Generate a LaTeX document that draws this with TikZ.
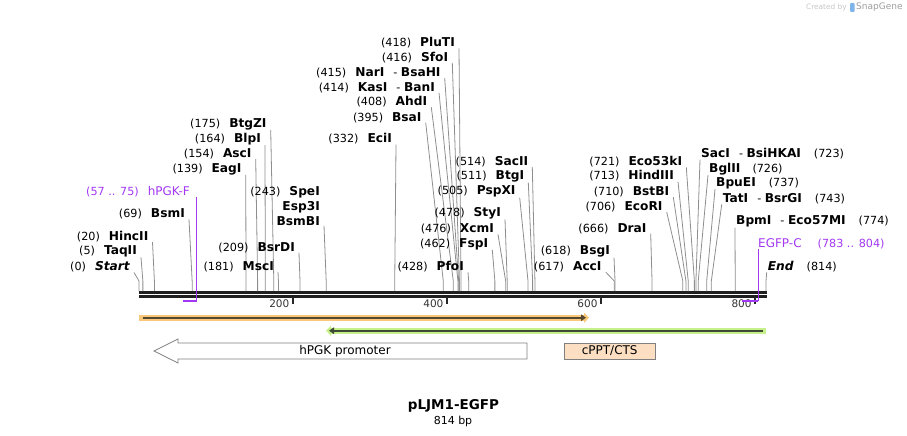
\documentclass[tikz,border=0pt]{standalone}
\usepackage{fontspec}
\setmainfont{DejaVu Sans}
\usetikzlibrary{arrows.meta}

\definecolor{cutgray}{HTML}{8E8E8E}
\definecolor{primerpurple}{HTML}{A238F2}
\definecolor{orfglow}{HTML}{F9C87A}
\definecolor{orfdark}{HTML}{54482E}
\definecolor{greenglow}{HTML}{C5F08A}
\definecolor{greendark}{HTML}{3E4A36}
\definecolor{cpptfill}{HTML}{FCDFC2}
\definecolor{logoblue}{HTML}{7DB4EA}

\begin{document}
\begin{tikzpicture}[x=1pt,y=-1pt,
    enz/.style={inner sep=0pt,font=\fontsize{11.2}{15}\selectfont,align=right,anchor=east},
    enzr/.style={inner sep=0pt,font=\fontsize{11.2}{15}\selectfont,align=left,anchor=west},
    cutline/.style={draw=cutgray,line width=0.8pt},
    primer/.style={draw=primerpurple,line width=1.3pt},
    backbone/.style={draw=black!88,line width=2.7pt},
    featbox/.style={draw=black!50,line width=0.7pt,font=\fontsize{12}{14}\selectfont}]

    \def\gap{\hspace{9pt}}
    \def\nm#1{{\fontsize{12.2}{15}\selectfont\bfseries #1}}

    \useasboundingbox (0,0) rectangle (907,436);

    %draw backbone:
    \draw[backbone] (139,292.3) -- (767,292.3);
    \draw[backbone] (139,296.3) -- (767,296.3);
    \foreach \t in {200,400,600,800}{
        \draw[line width=1.5pt,black!85] ({139+0.7703*\t},297) -- ({139+0.7703*\t},303.5);
        \node[inner sep=0pt,anchor=east,font=\fontsize{10.5}{12}\selectfont,text=black!80] (tick\t) at ({135.5+0.7703*\t},304) {\t};
    }

    %sites, label left of the line:
    \foreach \id/\bp/\lx/\ly/\txt in {
        start/0/130/267/{(0)\gap\nm{\itshape Start}},
        taqii/5/137/251.5/{(5)\gap\nm{TaqII}},
        hincii/20/148.5/236.5/{(20)\gap\nm{HincII}},
        bsmi/69/185/214/{(69)\gap\nm{BsmI}},
        eagi/139/241.7/169/{(139)\gap\nm{EagI}},
        asci/154/251.7/153.5/{(154)\gap\nm{AscI}},
        blpi/164/261/139/{(164)\gap\nm{BlpI}},
        btgzi/175/266.7/124/{(175)\gap\nm{BtgZI}},
        msci/181/274/266.7/{(181)\gap\nm{MscI}},
        bsrdi/209/295/247.3/{(209)\gap\nm{BsrDI}},
        spei/243/320/206/{(243)\gap\nm{SpeI}\\\nm{Esp3I}\\\nm{BsmBI}},
        ecii/332/392/139/{(332)\gap\nm{EciI}},
        bsai/395/421.7/117.3/{(395)\gap\nm{BsaI}},
        ahdi/408/427.3/101.7/{(408)\gap\nm{AhdI}},
        kasi/414/435/87.3/{(414)\gap\nm{KasI}\gap- \nm{BanI}},
        nari/415/440.7/72.7/{(415)\gap\nm{NarI}\gap- \nm{BsaHI}},
        sfoi/416/448.3/57.3/{(416)\gap\nm{SfoI}},
        pluti/418/455/42.7/{(418)\gap\nm{PluTI}},
        pfoi/428/464/266.7/{(428)\gap\nm{PfoI}},
        fspi/462/488.3/244/{(462)\gap\nm{FspI}},
        xcmi/476/494/229/{(476)\gap\nm{XcmI}},
        styi/478/501/213.3/{(478)\gap\nm{StyI}},
        pspxi/505/515.7/191.7/{(505)\gap\nm{PspXI}},
        btgi/511/524.3/176.7/{(511)\gap\nm{BtgI}},
        sacii/514/528.3/161.7/{(514)\gap\nm{SacII}},
        acci/617/601.7/266.7/{(617)\gap\nm{AccI}},
        bsgi/618/610/251.7/{(618)\gap\nm{BsgI}},
        drai/666/646.7/228.3/{(666)\gap\nm{DraI}},
        ecori/706/662.7/206.7/{(706)\gap\nm{EcoRI}},
        bstbi/710/669.3/191.7/{(710)\gap\nm{BstBI}},
        hindiii/713/674/176/{(713)\gap\nm{HindIII}},
        eco53ki/721/682.3/161.7/{(721)\gap\nm{Eco53kI}}}{
        \node[enz] (\id) at (\lx,\ly) {\txt};
        \coordinate (\id-cut) at ({139+0.7703*\bp},291);
        \draw[cutline] ([xshift=4pt]\id.south east) -- ([yshift=10pt]\id-cut) -- (\id-cut);
    }

    %sites, label right of the line:
    \foreach \id/\bp/\lx/\ly/\txt in {
        saci/723/701/154/{\nm{SacI}\gap- \nm{BsiHKAI}\hspace{13pt}(723)},
        bglii/726/709/169/{\nm{BglII}\hspace{12pt}(726)},
        bpuei/737/716/183.3/{\nm{BpuEI}\hspace{13pt}(737)},
        tati/743/722.7/199/{\nm{TatI}\gap- \nm{BsrGI}\hspace{13pt}(743)},
        bpmi/774/736/221.7/{\nm{BpmI}\gap- \nm{Eco57MI}\hspace{13pt}(774)},
        endsite/814/767.7/266.7/{\nm{\itshape End}\hspace{13pt}(814)}}{
        \node[enzr] (\id) at (\lx,\ly) {\txt};
        \coordinate (\id-cut) at ({139+0.7703*\bp},291);
        \draw[cutline] ([xshift=-1pt]\id.south west) -- ([yshift=10pt]\id-cut) -- (\id-cut);
    }

    %primers:
    \node[enz,text=primerpurple] (hpgkf) at (190,191.7) {(57 .. 75)\gap{\fontsize{12}{15}\selectfont hPGK-F}};
    \coordinate (hpgkf-3) at ({139+0.7703*75},301);
    \coordinate (hpgkf-5) at ({139+0.7703*57},301);
    \draw[primer] (hpgkf-3 |- hpgkf.south) -- (hpgkf-3);
    \draw[primer,line width=2pt] (hpgkf-3) -- (hpgkf-5);

    \node[enzr,text=primerpurple] (egfpc) at (758,244) {{\fontsize{12}{15}\selectfont EGFP-C}\hspace{16pt}(783 .. 804)};
    \coordinate (egfpc-5) at ({139+0.7703*804},301);
    \coordinate (egfpc-3) at ({139+0.7703*783},301);
    \draw[primer] (egfpc-5 |- egfpc.south) -- (egfpc-5);
    \draw[primer,line width=2pt] (egfpc-5) -- (egfpc-3);

    %features:
    \draw[orfglow,line width=5.7pt,-{Triangle[length=5pt,width=10pt]}] (139,317.7) -- (589,317.7);
    \draw[orfdark,line width=1.8pt,-{Triangle[length=5pt,width=6.5pt]}] (142.5,317.7) -- (586,317.7);
    \draw[greenglow,line width=5.7pt,-{Triangle[length=5pt,width=10pt]}] (765.5,330.7) -- (326,330.7);
    \draw[greendark,line width=1.8pt,-{Triangle[length=5pt,width=6.5pt]}] (762.5,330.7) -- (329,330.7);

    \draw[featbox,fill=white] (154,351) -- (178,339) -- (178,343) -- (527,343) -- (527,359) -- (178,359) -- (178,363) -- cycle;
    \node[font=\fontsize{12}{14}\selectfont] (pgk) at (345,351) {hPGK promoter};
    \node[featbox,fill=cpptfill,minimum width=91.5pt,minimum height=16pt,inner sep=0pt] (cppt) at (609.7,351) {cPPT/CTS};

    %title:
    \node[font=\fontsize{13.5}{16}\selectfont\bfseries] (title) at (453.5,406) {pLJM1-EGFP};
    \node[font=\fontsize{11}{13}\selectfont] (size) at (453,421) {814 bp};

    %credit:
    \node[inner sep=0pt,anchor=east,font=\fontsize{7.4}{8}\selectfont,text=black!22] (credit) at (847,7) {Created by};
    \fill[logoblue,rounded corners=1pt] (850,3) rectangle (854.5,12);
    \node[inner sep=0pt,anchor=west,font=\fontsize{9}{10}\selectfont,text=black!38] (snapgene) at (856,7.5) {SnapGene};

\end{tikzpicture}
\end{document}
